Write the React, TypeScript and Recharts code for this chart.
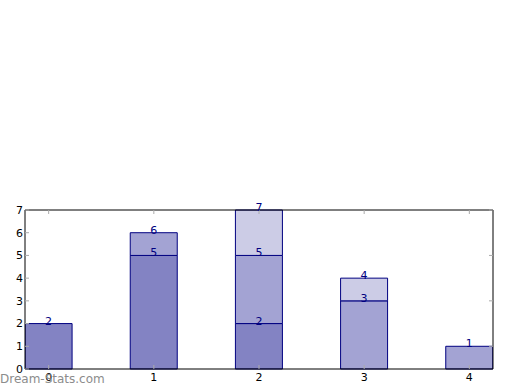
import { BarChart, Bar, XAxis, YAxis, LabelList } from 'recharts';

const categories = [0, 1, 2, 3, 4];
const seriesA = [2, 5, 2, 0, 0];
const seriesB = [0, 1, 3, 3, 1];
const seriesC = [0, 0, 2, 1, 0];
const yTicks = [0, 1, 2, 3, 4, 5, 6, 7];

const data = categories.map((cat, i) => ({
    cat,
    a: seriesA[i],
    b: seriesB[i],
    c: seriesC[i],
    topA: seriesA[i],
    topB: seriesA[i] + seriesB[i],
    topC: seriesA[i] + seriesB[i] + seriesC[i],
}));

const font = 'DejaVu Sans, sans-serif';

const TopLabel = (props: any) => {
    const { x, y, width, value } = props;
    if (!value) return null;
    return (
        <text x={x + width / 2} y={y + 1} textAnchor="middle" fill="#000080" fontSize={11} fontFamily={font}>
            {value}
        </text>
    );
};

const noTick = () => <g />;

export default function App() {
    return (
        <div style={{ position: 'absolute', left: 0, top: 0, width: 520, height: 390, background: '#fff' }}>
            <BarChart width={520} height={390} data={data} margin={{ top: 209, right: 26, bottom: 0, left: 0 }}>
                <XAxis
                    dataKey="cat"
                    type="number"
                    domain={[-0.225, 4.225]}
                    ticks={categories}
                    allowDataOverflow
                    height={21}
                    tickSize={-4}
                    tickMargin={8}
                    axisLine={{ stroke: '#000' }}
                    tickLine={{ stroke: '#aaa' }}
                    tick={{ fill: '#000', fontSize: 11, fontFamily: font }}
                />
                <XAxis
                    xAxisId="top"
                    orientation="top"
                    dataKey="cat"
                    type="number"
                    domain={[-0.225, 4.225]}
                    ticks={categories}
                    allowDataOverflow
                    height={1}
                    tickSize={-4}
                    axisLine={{ stroke: '#000' }}
                    tickLine={{ stroke: '#aaa' }}
                    tick={noTick}
                />
                <YAxis
                    type="number"
                    domain={[0, 7]}
                    ticks={yTicks}
                    width={25}
                    tickSize={-4}
                    tickMargin={6}
                    axisLine={{ stroke: '#000' }}
                    tickLine={{ stroke: '#aaa' }}
                    tick={{ fill: '#000', fontSize: 11, fontFamily: font }}
                />
                <YAxis
                    yAxisId="right"
                    orientation="right"
                    type="number"
                    domain={[0, 7]}
                    ticks={yTicks}
                    width={1}
                    tickSize={-4}
                    axisLine={{ stroke: '#000' }}
                    tickLine={{ stroke: '#aaa' }}
                    tick={noTick}
                />
                <Bar dataKey="a" stackId="s" fill="#8383c3" stroke="#000080" barSize={47} isAnimationActive={false}>
                    <LabelList dataKey="topA" content={TopLabel} />
                </Bar>
                <Bar dataKey="b" stackId="s" fill="#a3a3d3" stroke="#000080" barSize={47} isAnimationActive={false}>
                    <LabelList dataKey="topB" content={TopLabel} />
                </Bar>
                <Bar dataKey="c" stackId="s" fill="#cccce6" stroke="#000080" barSize={47} isAnimationActive={false}>
                    <LabelList dataKey="topC" content={TopLabel} />
                </Bar>
                {/* invisible series so the top/right frame axes get drawn */}
                <Bar
                    dataKey="topC"
                    xAxisId="top"
                    yAxisId="right"
                    fill="none"
                    stroke="none"
                    barSize={47}
                    isAnimationActive={false}
                />
            </BarChart>
            <div
                style={{
                    position: 'absolute',
                    left: 0,
                    top: 372,
                    fontFamily: font,
                    fontSize: 12,
                    color: '#8c8c8c',
                    pointerEvents: 'none',
                }}
            >
                Dream-Stats.com
            </div>
        </div>
    );
}
